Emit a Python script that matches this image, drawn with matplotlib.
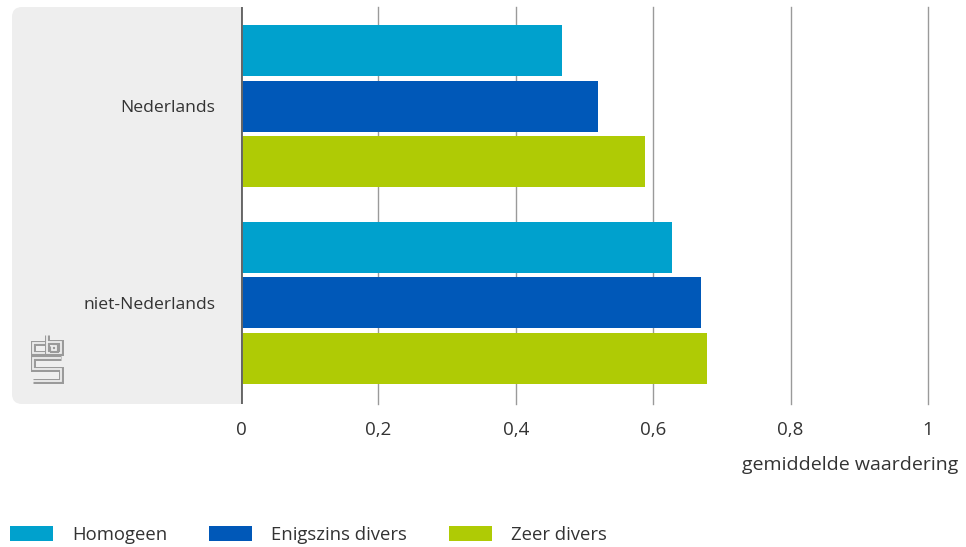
import matplotlib.pyplot as plt
import numpy as np
from matplotlib.patches import FancyBboxPatch, Rectangle

plt.rcParams['font.family'] = ['Open Sans', 'DejaVu Sans']

# data
groups = ['Nederlands', 'niet-Nederlands']
series = ['Homogeen', 'Enigszins divers', 'Zeer divers']
values = {
    'Homogeen': [0.467, 0.627],
    'Enigszins divers': [0.52, 0.67],
    'Zeer divers': [0.588, 0.678],
}
colors = ['#00a1cd', '#0058b8', '#afcb05']
xticks = [0, 0.2, 0.4, 0.6, 0.8, 1]
xticklabels = ['0', '0,2', '0,4', '0,6', '0,8', '1']

W, H = 966, 547
fig = plt.figure(figsize=(W / 100, H / 100), dpi=100)

# background layer in pixel coordinates
bg = fig.add_axes([0, 0, 1, 1], zorder=0)
bg.set_xlim(0, W)
bg.set_ylim(H, 0)
bg.axis('off')
panel = FancyBboxPatch((12, 7), 229, 397, boxstyle='round,pad=0,rounding_size=10',
                       fc='#eeeeee', ec='none')
bg.add_patch(panel)
bg.add_patch(Rectangle((225, 7), 16, 397, fc='#eeeeee', ec='none'))

# cbs logo (rough)
logo = [
    [(45, 343), (33, 343), (33, 353), (45, 353)],
    [(47, 335), (47, 353), (61, 353), (61, 342), (47, 342)],
    [(52, 345.5), (56, 345.5), (56, 349.5), (52, 349.5), (52, 345.5)],
    [(61, 358), (33, 358), (33, 369), (61, 369), (61, 381), (33, 381)],
]
for seg in logo:
    xs, ys = zip(*seg)
    bg.plot(xs, ys, color='#9a9a9a', lw=3.6, solid_capstyle='butt', solid_joinstyle='miter')
    bg.plot(xs, ys, color='#eeeeee', lw=1.3, solid_capstyle='butt', solid_joinstyle='miter')

# main chart
ax = fig.add_axes([241 / W, 1 - 404 / H, 687 / W, 397 / H], zorder=1)
ax.patch.set_alpha(0)
h = 0.259
off = 0.284
ypos = np.arange(len(groups))
for i, (name, c) in enumerate(zip(series, colors)):
    ax.barh(ypos + (i - 1) * off, values[name], height=h, color=c, label=name, zorder=2)

ax.set_xlim(0, 1)
ax.set_ylim(1.513, -0.503)
for x in xticks[1:]:
    ax.axvline(x, color='#9a9a9a', lw=1, zorder=1, clip_on=False)
ax.axvline(0, color='#666666', lw=2.8, zorder=3)

for s in ax.spines.values():
    s.set_visible(False)
ax.set_yticks(ypos)
ax.set_yticklabels(groups, fontsize=12.6, color='#333333')
ax.set_xticks(xticks)
ax.set_xticklabels(xticklabels, fontsize=13.5, color='#333333')
ax.tick_params(length=0)
ax.tick_params(axis='y', pad=18.5)
ax.tick_params(axis='x', pad=12)

fig.text(958 / W, 1 - 465 / H, 'gemiddelde waardering', ha='right', va='center',
         fontsize=14, color='#333333')

fig.legend(loc='center left', bbox_to_anchor=(10 / W, 1 - 535 / H), ncol=3,
           frameon=False, fontsize=13.3, handlelength=2.32, handleheight=0.92,
           handletextpad=1.05, columnspacing=2.25, borderpad=0, borderaxespad=0,
           labelcolor='#333333')

fig.savefig('out.png', dpi=100)
